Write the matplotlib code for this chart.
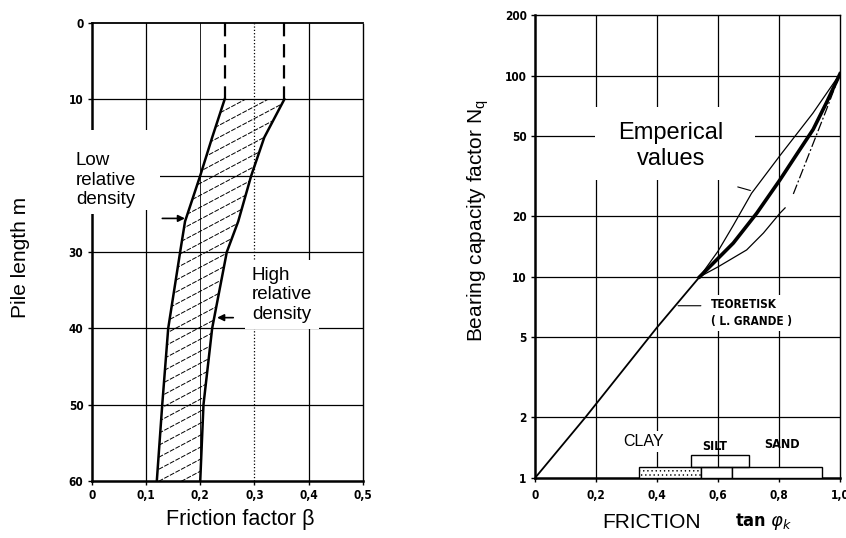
import numpy as np
import matplotlib
matplotlib.use("Agg")
import matplotlib.pyplot as plt
from matplotlib.patches import Rectangle, Polygon
from matplotlib.collections import LineCollection
from matplotlib.ticker import NullLocator

# ---- Friction factor beta versus pile length ----
depth_m = [10, 15, 20, 26, 30, 40, 50, 60]
beta_low_density = [0.245, 0.222, 0.200, 0.172, 0.163, 0.141, 0.130, 0.120]
beta_high_density = [0.355, 0.318, 0.294, 0.270, 0.249, 0.222, 0.206, 0.200]
depth_ticks = [0, 10, 20, 30, 40, 50, 60]
depth_ticklabels = ["0", "10", "", "30", "40", "50", "60"]
beta_ticks = [0.0, 0.1, 0.2, 0.3, 0.4, 0.5]
beta_ticklabels = ["0", "0,1", "0,2", "0,3", "0,4", "0,5"]

# ---- Bearing capacity factor Nq versus friction tan(phi) ----
tan_theory = [0.0, 0.165, 0.40, 0.54, 0.65, 0.727, 0.803, 0.858, 0.912, 0.956, 1.0]
nq_theory = [1.0, 2.0, 5.6, 10.0, 14.7, 20.7, 30.3, 40.6, 54.0, 73.5, 102.0]
tan_emp_upper = [0.54, 0.60, 0.65, 0.71, 0.803, 0.911, 1.0]
nq_emp_upper = [10.0, 13.4, 18.0, 26.0, 40.0, 65.0, 102.0]
tan_emp_lower = [0.54, 0.60, 0.694, 0.749, 0.803, 0.82]
nq_emp_lower = [10.0, 11.2, 13.6, 16.5, 20.7, 22.0]
tan_emp_lower_ext = [0.847, 0.912, 0.956, 1.0]
nq_emp_lower_ext = [25.8, 46.0, 68.0, 102.0]
tan_ticks = [0.0, 0.2, 0.4, 0.6, 0.8, 1.0]
tan_ticklabels = ["0", "0,2", "0,4", "0,6", "0,8", "1,0"]
nq_ticks = [1, 2, 5, 10, 20, 50, 100, 200]
nq_ticklabels = ["1", "2", "5", "10", "20", "50", "100", "200"]
soil_bar_edges = [0.34, 0.543, 0.645, 0.94]
silt_range = [0.51, 0.70]
soil_labels = ["CLAY", "SILT", "SAND"]

NARROW = ["Liberation Sans Narrow", "DejaVu Sans"]
SANS = ["Liberation Sans", "DejaVu Sans"]
plt.rcParams["hatch.linewidth"] = 0.5

W, H = 846, 538
fig = plt.figure(figsize=(W / 100, H / 100), dpi=100)


def px_axes(left, top, right, bottom):
    return fig.add_axes([left / W, 1 - bottom / H, (right - left) / W, (bottom - top) / H])


def style_ticks(ax, pad_x, pad_y):
    ax.tick_params(axis="both", direction="out", length=3, width=1, labelsize=8.5)
    ax.tick_params(axis="x", pad=pad_x)
    ax.tick_params(axis="y", pad=pad_y)
    for lbl in ax.get_xticklabels() + ax.get_yticklabels():
        lbl.set_family(NARROW)
        lbl.set_weight("bold")
        lbl.set_stretch("condensed")


# ================= left panel =================
ax1 = px_axes(91.7, 23, 363, 481)
ax1.set_xlim(0, 0.5)
ax1.set_ylim(60, 0)
ax1.set_xticks(beta_ticks, beta_ticklabels)
ax1.set_yticks(depth_ticks, depth_ticklabels)
style_ticks(ax1, 3, 3)

for b in beta_ticks[1:-1]:
    ax1.axvline(b, color="k", lw=0.6 if b == 0.2 else 0.9,
                ls=":" if b == 0.3 else "-", zorder=1)
for d in depth_ticks[1:-1]:
    ax1.axhline(d, color="k", lw=0.9, zorder=1)

ax1.spines["left"].set_linewidth(1.8)
ax1.spines["bottom"].set_linewidth(1.8)
ax1.spines["top"].set_linewidth(1.3)
ax1.spines["top"].set_linestyle((0, (4, 1)))
ax1.spines["right"].set_linewidth(1.0)
ax1.spines["right"].set_linestyle((0, (2, 1)))

# shaded band between low and high relative density
band_xy = np.column_stack([beta_low_density + beta_high_density[::-1],
                           depth_m + depth_m[::-1]])
band = Polygon(band_xy, closed=True, facecolor="none", edgecolor="none",
               transform=ax1.transData)
ax1.add_patch(band)

# shallow diagonal hatching clipped to the band
bb = ax1.get_position()
slope = 0.53 * (bb.width * W) / (bb.height * H)
step = 12 / (bb.height * H)
segs = [[(0, c), (1, c + slope)] for c in np.arange(-slope, 1.0 + step, step)]
hatch = LineCollection(segs, transform=ax1.transAxes, colors="k",
                       linewidths=0.7, linestyles=[(0, (5, 1.5))], zorder=2)
hatch.set_clip_path(band)
ax1.add_collection(hatch, autolim=False)

ax1.plot(beta_low_density, depth_m, color="k", lw=1.8, zorder=3)
ax1.plot(beta_high_density, depth_m, color="k", lw=1.8, zorder=3)
for b in (beta_low_density[0], beta_high_density[0]):
    ax1.plot([b, b], [0, depth_m[0]], color="k", lw=1.6, ls=(0, (6, 3.5)), zorder=3)

# white space around the left caption, breaking the frame and grid
ax1.add_patch(Rectangle((-0.04, 14.0), 0.166, 10.5, fc="white", ec="none",
                        zorder=4, clip_on=False))
ax1.text(-0.029, 20.6, "Low\nrelative\ndensity", ha="left", va="center",
         fontsize=13.5, family=SANS, linespacing=1.2, zorder=5, clip_on=False,
         bbox=dict(boxstyle="square,pad=0.3", fc="white", ec="none"))
ax1.annotate("", xy=(0.177, 25.6), xytext=(0.125, 25.6), zorder=6,
             arrowprops=dict(arrowstyle="-|>", color="k", lw=1.2, mutation_scale=10))
ax1.text(0.295, 35.6, "High\nrelative\ndensity", ha="left", va="center",
         fontsize=13.5, family=SANS, linespacing=1.2, zorder=5,
         bbox=dict(boxstyle="square,pad=0.35", fc="white", ec="none"))
ax1.annotate("", xy=(0.226, 38.6), xytext=(0.266, 38.6), zorder=6,
             arrowprops=dict(arrowstyle="-|>", color="k", lw=1.2, mutation_scale=10))

fig.text(20 / W, 1 - 257 / H, "Pile length m", rotation=90, ha="center",
         va="center", fontsize=15, family=SANS)
fig.text(240 / W, 1 - 520 / H, "Friction factor β", ha="center", va="center",
         fontsize=15.5, family=SANS)

# ================= right panel =================
ax2 = px_axes(535, 15, 840, 478)
ax2.set_yscale("log")
ax2.set_xlim(0, 1)
ax2.set_ylim(1, 200)
ax2.set_xticks(tan_ticks, tan_ticklabels)
ax2.set_yticks(nq_ticks, nq_ticklabels)
ax2.yaxis.set_minor_locator(NullLocator())
style_ticks(ax2, 5, 3)

for t in tan_ticks[1:-1]:
    ax2.axvline(t, color="k", lw=0.9, zorder=1)
for n in nq_ticks[1:-1]:
    ax2.axhline(n, color="k", lw=0.9, zorder=1)

ax2.spines["left"].set_linewidth(1.8)
ax2.spines["bottom"].set_linewidth(1.8)
ax2.spines["top"].set_linewidth(1.0)
ax2.spines["right"].set_linewidth(1.0)

# clear area behind the caption
ax2.add_patch(Rectangle((0.197, 0.644), 0.524, 0.157, transform=ax2.transAxes,
                        fc="white", ec="none", zorder=1.5))
ax2.text(0.446, 44.7, "Emperical\nvalues", ha="center", va="center",
         fontsize=17, family=SANS, linespacing=1.2, zorder=4)

t_th = np.array(tan_theory)
n_th = np.array(nq_theory)
ax2.plot(t_th, n_th, color="k", lw=1.3, zorder=3)
thick = t_th >= 0.54
ax2.plot(t_th[thick], n_th[thick], color="k", lw=2.6, zorder=3)
ax2.plot(tan_emp_upper, nq_emp_upper, color="k", lw=0.9, zorder=3)
ax2.plot(tan_emp_lower, nq_emp_lower, color="k", lw=0.9, zorder=3)
ax2.plot(tan_emp_lower_ext, nq_emp_lower_ext, color="k", lw=0.9,
         ls=(0, (8, 2, 1.5, 2)), zorder=3)

# leader from the caption to the upper empirical curve
up_at = 10 ** np.interp(0.715, tan_emp_upper, np.log10(nq_emp_upper))
ax2.annotate("", xy=(0.715, up_at), xytext=(0.656, up_at * 1.06), zorder=4,
             arrowprops=dict(arrowstyle="-", color="k", lw=0.8))

# leader and caption for the theoretical curve
th_at = 10 ** np.interp(0.46, tan_theory, np.log10(nq_theory))
ax2.annotate("", xy=(0.46, th_at), xytext=(0.553, th_at), zorder=4,
             arrowprops=dict(arrowstyle="-", color="k", lw=0.8))
ax2.text(0.578, th_at * 0.92, "TEORETISK\n( L. GRANDE )", ha="left", va="center",
         fontsize=8.5, family=NARROW, weight="bold", stretch="condensed",
         linespacing=1.35, zorder=4,
         bbox=dict(boxstyle="square,pad=0.25", fc="white", ec="none"))

# soil type bars
for i, (e0, e1) in enumerate(zip(soil_bar_edges[:-1], soil_bar_edges[1:])):
    ax2.add_patch(Rectangle((e0, 1.0), e1 - e0, 0.14, fc="white", ec="k",
                            lw=1.0, hatch="...." if i == 0 else None, zorder=3))
ax2.add_patch(Rectangle((silt_range[0], 1.14), silt_range[1] - silt_range[0], 0.16,
                        fc="none", ec="k", lw=1.0, zorder=3))
ax2.text(0.355, 1.52, soil_labels[0], ha="center", va="center", fontsize=11.5,
         family=SANS, zorder=4,
         bbox=dict(boxstyle="square,pad=0.2", fc="white", ec="none"))
ax2.text(0.59, 1.44, soil_labels[1], ha="center", va="center", fontsize=9,
         family=NARROW, weight="bold", stretch="condensed", zorder=4)
ax2.text(0.81, 1.46, soil_labels[2], ha="center", va="center", fontsize=9,
         family=NARROW, weight="bold", stretch="condensed", zorder=4)

fig.text(478 / W, 1 - 221 / H, r"Bearing capacity factor N$_{\mathregular{q}}$",
         rotation=90, ha="center", va="center", fontsize=15, family=SANS)
fig.text(652 / W, 1 - 522 / H, "FRICTION", ha="center", va="center",
         fontsize=15, family=SANS)
fig.text(735 / W, 1 - 521 / H, r"tan $\varphi_k$", ha="left", va="center",
         fontsize=13, family=NARROW, weight="bold", stretch="condensed")

fig.savefig("out.png", dpi=100)
